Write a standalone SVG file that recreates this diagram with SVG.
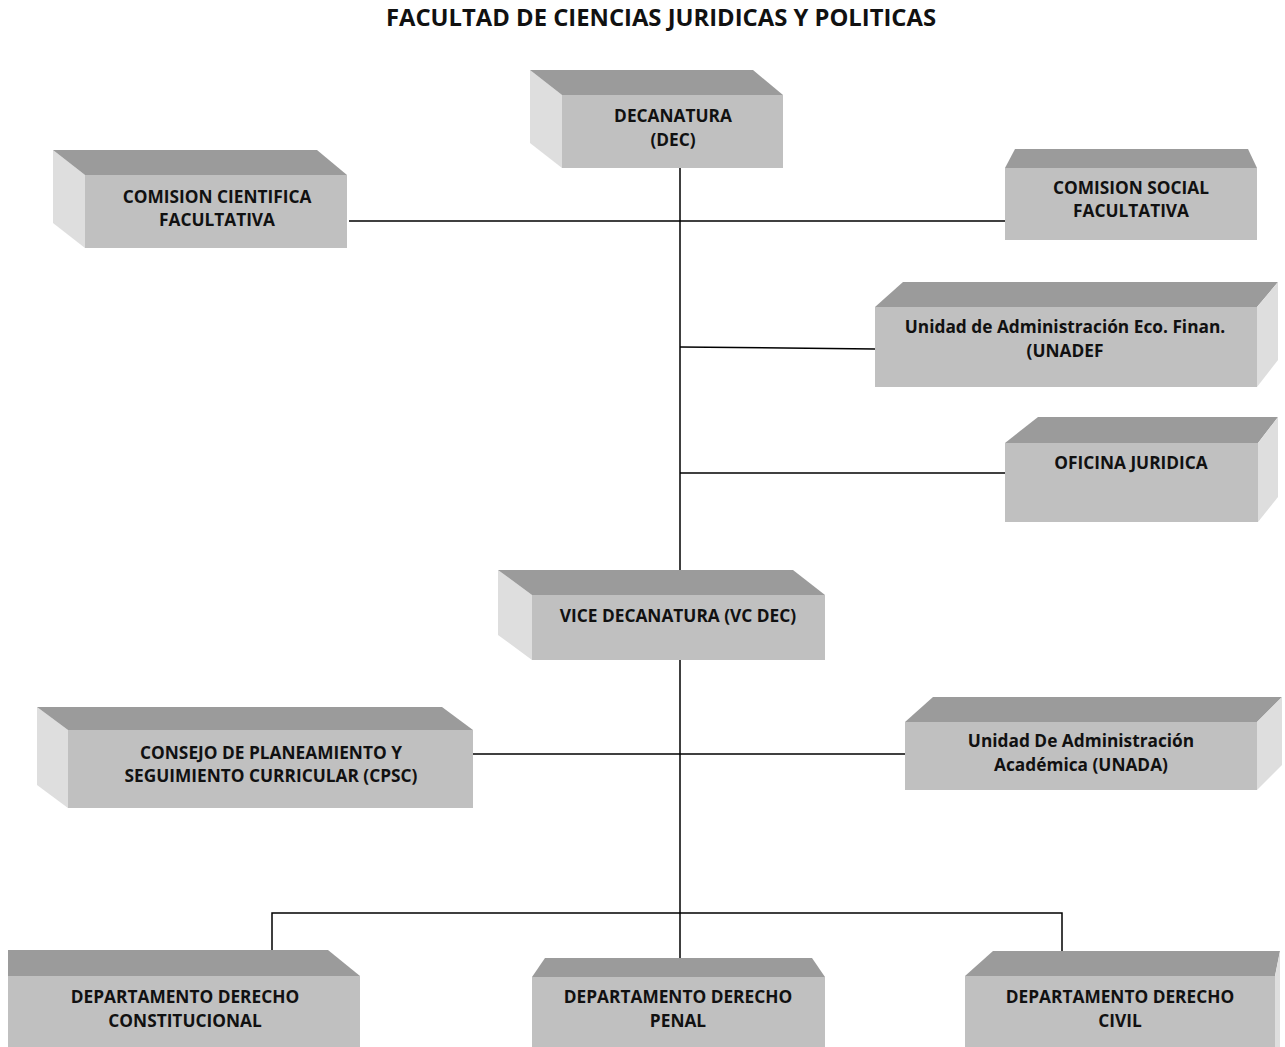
<svg xmlns="http://www.w3.org/2000/svg" width="1285" height="1047" viewBox="0 0 1285 1047">
<style>
.top{fill:#9b9b9b}
.front{fill:#c0c0c0}
.side{fill:#dedede}
.t{font-family:"Open Sans","Liberation Sans",sans-serif;font-weight:700;font-size:17.3px;fill:#111;text-anchor:middle}
.title{font-size:23.8px}
.c{stroke:#000;stroke-width:1.5;fill:none}
</style>
<rect width="1285" height="1047" fill="#fff"/>
<text class="t title" x="661" y="26">FACULTAD DE CIENCIAS JURIDICAS Y POLITICAS</text>
<g id="connectors">
<path class="c" d="M680 168V570"/>
<path class="c" d="M349 221H1005"/>
<path class="c" d="M680 347L875 349"/>
<path class="c" d="M680 473H1005"/>
<path class="c" d="M680 660V958"/>
<path class="c" d="M473 754H905"/>
<path class="c" d="M272 950V913H1062V951"/>
</g>
<g id="dec">
<polygon class="side" points="530,70 562,95 562,168 530,143"/>
<polygon class="top" points="530,70 753,70 783,95 562,95"/>
<rect class="front" x="562" y="95" width="221" height="73"/>
<text class="t" x="673" y="122">DECANATURA</text>
<text class="t" x="673" y="146">(DEC)</text>
</g>
<g id="ccf">
<polygon class="side" points="53,150 85,175 85,248 53,223"/>
<polygon class="top" points="53,150 317,150 347,175 85,175"/>
<rect class="front" x="85" y="175" width="262" height="73"/>
<text class="t" x="217" y="203">COMISION CIENTIFICA</text>
<text class="t" x="217" y="226">FACULTATIVA</text>
</g>
<g id="csf">
<polygon class="top" points="1015,149 1248,149 1257,168 1005,168"/>
<rect class="front" x="1005" y="168" width="252" height="72"/>
<text class="t" x="1131" y="194">COMISION SOCIAL</text>
<text class="t" x="1131" y="217">FACULTATIVA</text>
</g>
<g id="unadef">
<polygon class="top" points="903,282 1278,282 1257,307 875,307"/>
<polygon class="side" points="1257,307 1278,282 1278,360 1257,387"/>
<rect class="front" x="875" y="307" width="382" height="80"/>
<text class="t" x="1065" y="333">Unidad de Administración Eco. Finan.</text>
<text class="t" x="1065" y="357">(UNADEF</text>
</g>
<g id="oficina">
<polygon class="top" points="1038,417 1278,417 1258,443 1005,443"/>
<polygon class="side" points="1258,443 1278,417 1278,497 1258,522"/>
<rect class="front" x="1005" y="443" width="253" height="79"/>
<text class="t" x="1131" y="469">OFICINA JURIDICA</text>
</g>
<g id="vice">
<polygon class="side" points="498,570 532,595 532,660 498,635"/>
<polygon class="top" points="498,570 793,570 825,595 532,595"/>
<rect class="front" x="532" y="595" width="293" height="65"/>
<text class="t" x="678" y="622">VICE DECANATURA (VC DEC)</text>
</g>
<g id="cpsc">
<polygon class="side" points="37,707 68,730 68,808 37,785"/>
<polygon class="top" points="37,707 442,707 473,730 68,730"/>
<rect class="front" x="68" y="730" width="405" height="78"/>
<text class="t" x="271" y="759">CONSEJO DE PLANEAMIENTO Y</text>
<text class="t" x="271" y="782">SEGUIMIENTO CURRICULAR (CPSC)</text>
</g>
<g id="unada">
<polygon class="top" points="933,697 1282,697 1257,722 905,722"/>
<polygon class="side" points="1257,722 1282,697 1282,765 1257,790"/>
<rect class="front" x="905" y="722" width="352" height="68"/>
<text class="t" x="1081" y="747">Unidad De Administración</text>
<text class="t" x="1081" y="771">Académica (UNADA)</text>
</g>
<g id="constitucional">
<polygon class="top" points="8,950 328,950 360,976 8,976"/>
<rect class="front" x="8" y="976" width="352" height="71"/>
<text class="t" x="185" y="1003">DEPARTAMENTO DERECHO</text>
<text class="t" x="185" y="1027">CONSTITUCIONAL</text>
</g>
<g id="penal">
<polygon class="top" points="545,958 812,958 825,977 532,977"/>
<rect class="front" x="532" y="977" width="293" height="70"/>
<text class="t" x="678" y="1003">DEPARTAMENTO DERECHO</text>
<text class="t" x="678" y="1027">PENAL</text>
</g>
<g id="civil">
<polygon class="top" points="993,951 1280,951 1275,976 965,976"/>
<polygon class="side" points="1275,976 1280,951 1280,1047 1275,1047"/>
<rect class="front" x="965" y="976" width="310" height="71"/>
<text class="t" x="1120" y="1003">DEPARTAMENTO DERECHO</text>
<text class="t" x="1120" y="1027">CIVIL</text>
</g>
</svg>
